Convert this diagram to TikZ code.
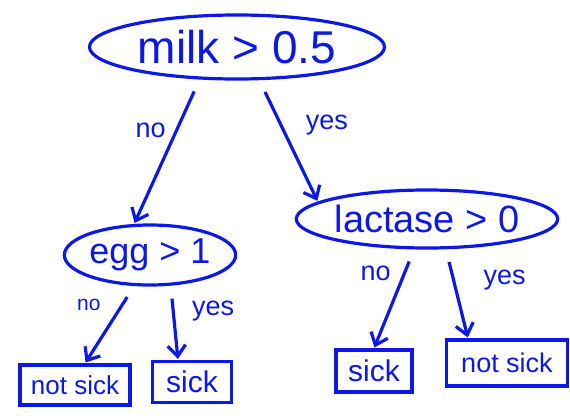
\documentclass[tikz,border=0pt]{standalone}
\usepackage{fontspec}
\setmainfont{Liberation Sans}
\usepackage{xcolor}
\usepackage{tikz}
\usetikzlibrary{arrows.meta, positioning, shapes.geometric}
\definecolor{PenBlue}{RGB}{12,24,232}

\begin{document}
\begin{tikzpicture}[x=1pt, y=-1pt,
    test/.style={ellipse, draw=PenBlue, line width=3.2pt, inner sep=0pt, text=PenBlue},
    leaf/.style={rectangle, draw=PenBlue, line width=3.2pt, inner sep=0pt, text=PenBlue},
    arrow/.style={-{Straight Barb[length=11pt, width=18pt]}, draw=PenBlue, line width=3.2pt, shorten <=13pt, shorten >=1pt},
    answer/.style={text=PenBlue, font=\fontsize{27}{29}\selectfont},
    smallAnswer/.style={text=PenBlue, font=\fontsize{21}{23}\selectfont}
]
\useasboundingbox (0,0) rectangle (570,415);

\node[test, minimum width=295pt, minimum height=64pt, font=\fontsize{46}{50}\selectfont] (milk) at (237,47) {milk > 0.5};
\node[test, minimum width=170pt, minimum height=60pt, font=\fontsize{36}{40}\selectfont] (egg) at (150,255) {egg > 1};
\node[test, minimum width=244pt, minimum height=58pt, font=\fontsize{38}{42}\selectfont] (lactase) at (427,219) {lactase > 0};

\node[leaf, minimum width=110pt, minimum height=40pt, font=\fontsize{26}{28}\selectfont] (notSickA) at (75,385) {not sick};
\node[leaf, minimum width=79pt, minimum height=41pt, font=\fontsize{30}{32}\selectfont] (sickA) at (192,382) {sick};
\node[leaf, minimum width=76pt, minimum height=42pt, font=\fontsize{30}{32}\selectfont] (sickB) at (374,371) {sick};
\node[leaf, minimum width=121pt, minimum height=46pt, font=\fontsize{27}{29}\selectfont] (notSickB) at (507,363) {not sick};

\draw[arrow] (milk.221) -- node[answer, pos=0.35, left=6pt]{no} (egg.117);
\draw[arrow] (milk.304) -- node[answer, pos=0.37, right=20pt]{yes} (lactase.171);
\draw[arrow] (egg.243) -- node[smallAnswer, pos=0.24, left=17pt]{no} ([xshift=10pt]notSickA.north);
\draw[arrow] (egg.304) -- node[answer, pos=0.34, right=14pt]{yes} ([xshift=-14pt]sickA.north);
\draw[arrow] (lactase.247) -- node[answer, pos=0.24, left=9pt]{no} (sickB.north);
\draw[arrow] (lactase.302) -- node[answer, pos=0.35, right=25pt]{yes} ([xshift=-39pt]notSickB.north);
\end{tikzpicture}
\end{document}
